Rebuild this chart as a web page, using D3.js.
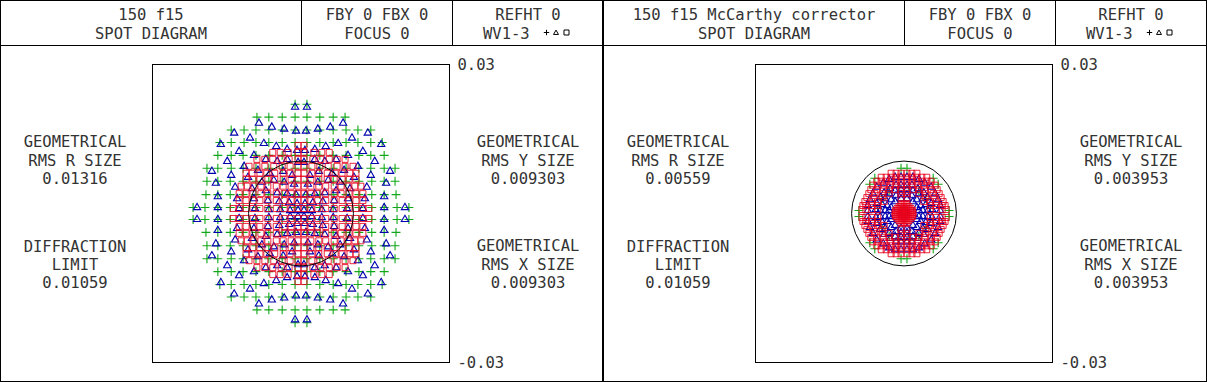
<!DOCTYPE html>
<html>
<head>
<meta charset="utf-8">
<script src="https://cdn.jsdelivr.net/npm/d3@7"></script>
<style>
  html, body { margin: 0; background: #fff; }
  svg { display: block; }
  text { font-family: "DejaVu Sans Mono", monospace; font-size: 15.5px; fill: #333; }
</style>
</head>
<body>
<script>
// spot positions are in micrometres on the image plane, axis labels are in mm
const axisTicks = [30, -30];
const diffractionLimit = 10.59;

const leftTitle = "150 f15";
const rightTitle = "150 f15 McCarthy corrector";
const leftRmsR = "0.01316", leftRmsY = "0.009303", leftRmsX = "0.009303";
const rightRmsR = "0.00559", rightRmsY = "0.003953", rightRmsX = "0.003953";
const limitText = "0.01059";

// left panel, wavelength 1, one list per image row
const leftCrossY = [-22, -19.4, -16.8, -14.3, -11.7, -9.1, -6.5, -3.8, -1.2, 1.2, 3.8, 6.5, 9.1, 11.7, 14.3, 16.8, 19.4, 22];
const leftCrossX = [
  [-1.2, 1.2],
  [-8.9, -6.5, -3.8, -1.2, 1.2, 3.8, 6.5, 8.9],
  [-14.1, -11.5, -9.1, -6.5, -3.8, -1.2, 1.2, 3.8, 6.5, 9.1, 11.5, 14.1],
  [-16.4, -14.1, -11.5, -9.1, -6.5, -3.8, -1.2, 1.2, 3.8, 6.5, 9.1, 11.5, 14.1, 16.4],
  [-16.8, -14.1, -11.7, -9.1, -6.5, -3.8, -1.2, 1.2, 3.8, 6.5, 9.1, 11.7, 14.1, 16.8],
  [-19, -16.8, -14.1, -11.7, -9.1, -6.5, -3.8, -1.2, 1.2, 3.8, 6.5, 9.1, 11.7, 14.1, 16.8, 19],
  [-19, -16.8, -14.3, -11.7, -9.1, -6.5, -3.8, -1.2, 1.2, 3.8, 6.5, 9.1, 11.7, 14.3, 16.8, 19],
  [-19.2, -16.8, -14.3, -11.7, -9.1, -6.5, -3.8, -1.2, 1.2, 3.8, 6.5, 9.1, 11.7, 14.3, 16.8, 19.2],
  [-21.8, -19.4, -16.8, -14.3, -11.7, -9.1, -6.5, -3.8, -1.2, 1.2, 3.8, 6.5, 9.1, 11.7, 14.3, 16.8, 19.4, 21.8],
  [-21.8, -19.4, -16.8, -14.3, -11.7, -9.1, -6.5, -3.8, -1.2, 1.2, 3.8, 6.5, 9.1, 11.7, 14.3, 16.8, 19.4, 21.8],
  [-19.2, -16.8, -14.3, -11.7, -9.1, -6.5, -3.8, -1.2, 1.2, 3.8, 6.5, 9.1, 11.7, 14.3, 16.8, 19.2],
  [-19, -16.8, -14.3, -11.7, -9.1, -6.5, -3.8, -1.2, 1.2, 3.8, 6.5, 9.1, 11.7, 14.3, 16.8, 19],
  [-19, -16.8, -14.1, -11.7, -9.1, -6.5, -3.8, -1.2, 1.2, 3.8, 6.5, 9.1, 11.7, 14.1, 16.8, 19],
  [-16.8, -14.1, -11.7, -9.1, -6.5, -3.8, -1.2, 1.2, 3.8, 6.5, 9.1, 11.7, 14.1, 16.8],
  [-16.4, -14.1, -11.5, -9.1, -6.5, -3.8, -1.2, 1.2, 3.8, 6.5, 9.1, 11.5, 14.1, 16.4],
  [-14.1, -11.5, -9.1, -6.5, -3.8, -1.2, 1.2, 3.8, 6.5, 9.1, 11.5, 14.1],
  [-8.9, -6.5, -3.8, -1.2, 1.2, 3.8, 6.5, 8.9],
  [-1.2, 1.2]
];

// left panel, wavelength 2
const leftTriangles = [
  [-1.2,-21.4],[-1,-16.6],[-3.4,-17],[-5.9,-17.4],[-8.5,-18.2],[-13.5,-16.2],[-10.3,-15.2],[-7.5,-14.1],[-5,-13.5],[-2.8,-12.9],[-.8,-12.7],
  [-16.2,-13.9],[-12.5,-12.5],[-9.5,-11.7],[-7.1,-10.9],[-4.8,-10.5],[-2.8,-10.9],[-.6,-10.3],[-14.9,-10.5],[-11.5,-9.5],[-8.7,-8.7],[-6.3,-8.1],[-3.6,-8.5],[-1.8,-7.7],
  [-18,-8.5],[-14.1,-7.7],[-10.7,-7.3],[-7.9,-6.3],[-5.5,-6.7],[-3.4,-6.3],[-1.4,-5.9],[-17.2,-6.1],[-13.3,-5.3],[-9.9,-5],[-7.1,-4.6],[-4.8,-4.2],[-2.8,-4],[-1,-3.8],
  [-16.8,-3.4],[-12.9,-3],[-9.5,-3],[-6.7,-2.6],[-4.4,-2.4],[-2.4,-2.2],[-.8,-2],[-21,-1.2],[-16.8,-1.2],[-12.5,-1],[-9.3,-1],[-6.5,-.8],[-4.2,-.8],[-2.2,-.6],[-.6,-.6],

  [1.2,-21.4],[1,-16.6],[3.4,-17],[5.9,-17.4],[8.5,-18.2],[13.5,-16.2],[10.3,-15.2],[7.5,-14.1],[5,-13.5],[2.8,-12.9],[.8,-12.7],
  [16.2,-13.9],[12.5,-12.5],[9.5,-11.7],[7.1,-10.9],[4.8,-10.5],[2.8,-10.9],[.6,-10.3],[14.9,-10.5],[11.5,-9.5],[8.7,-8.7],[6.3,-8.1],[3.6,-8.5],[1.8,-7.7],
  [18,-8.5],[14.1,-7.7],[10.7,-7.3],[7.9,-6.3],[5.5,-6.7],[3.4,-6.3],[1.4,-5.9],[17.2,-6.1],[13.3,-5.3],[9.9,-5],[7.1,-4.6],[4.8,-4.2],[2.8,-4],[1,-3.8],
  [16.8,-3.4],[12.9,-3],[9.5,-3],[6.7,-2.6],[4.4,-2.4],[2.4,-2.2],[.8,-2],[21,-1.2],[16.8,-1.2],[12.5,-1],[9.3,-1],[6.5,-.8],[4.2,-.8],[2.2,-.6],[.6,-.6],

  [-1.2,21.4],[-1,16.6],[-3.4,17],[-5.9,17.4],[-8.5,18.2],[-13.5,16.2],[-10.3,15.2],[-7.5,14.1],[-5,13.5],[-2.8,12.9],[-.8,12.7],
  [-16.2,13.9],[-12.5,12.5],[-9.5,11.7],[-7.1,10.9],[-4.8,10.5],[-2.8,10.9],[-.6,10.3],[-14.9,10.5],[-11.5,9.5],[-8.7,8.7],[-6.3,8.1],[-3.6,8.5],[-1.8,7.7],
  [-18,8.5],[-14.1,7.7],[-10.7,7.3],[-7.9,6.3],[-5.5,6.7],[-3.4,6.3],[-1.4,5.9],[-17.2,6.1],[-13.3,5.3],[-9.9,5],[-7.1,4.6],[-4.8,4.2],[-2.8,4],[-1,3.8],
  [-16.8,3.4],[-12.9,3],[-9.5,3],[-6.7,2.6],[-4.4,2.4],[-2.4,2.2],[-.8,2],[-21,1.2],[-16.8,1.2],[-12.5,1],[-9.3,1],[-6.5,.8],[-4.2,.8],[-2.2,.6],[-.6,.6],

  [1.2,21.4],[1,16.6],[3.4,17],[5.9,17.4],[8.5,18.2],[13.5,16.2],[10.3,15.2],[7.5,14.1],[5,13.5],[2.8,12.9],[.8,12.7],
  [16.2,13.9],[12.5,12.5],[9.5,11.7],[7.1,10.9],[4.8,10.5],[2.8,10.9],[.6,10.3],[14.9,10.5],[11.5,9.5],[8.7,8.7],[6.3,8.1],[3.6,8.5],[1.8,7.7],
  [18,8.5],[14.1,7.7],[10.7,7.3],[7.9,6.3],[5.5,6.7],[3.4,6.3],[1.4,5.9],[17.2,6.1],[13.3,5.3],[9.9,5],[7.1,4.6],[4.8,4.2],[2.8,4],[1,3.8],
  [16.8,3.4],[12.9,3],[9.5,3],[6.7,2.6],[4.4,2.4],[2.4,2.2],[.8,2],[21,1.2],[16.8,1.2],[12.5,1],[9.3,1],[6.5,.8],[4.2,.8],[2.2,.6],[.6,.6]
];

// left panel, wavelength 3
const leftSquareY = [-13.7, -12.3, -10.9, -9.5, -8.1, -6.9, -5.5, -4, -2.6, -1, 1, 2.6, 4, 5.5, 6.9, 8.1, 9.5, 10.9, 12.3, 13.7];
const leftSquareX = [
  [-.6, .6],
  [-5.7, -4.2, -2.6, -.6, .6, 2.6, 4.2, 5.7],
  [-8.9, -7.3, -5.7, -4, -2.4, -.6, .6, 2.4, 4, 5.7, 7.3, 8.9],
  [-10.5, -8.9, -7.3, -5.5, -3.8, -2.2, -.6, .6, 2.2, 3.8, 5.5, 7.3, 8.9, 10.5],
  [-11.1, -9.9, -8.3, -6.9, -5.3, -3.6, -2.2, -.6, .6, 2.2, 3.6, 5.3, 6.9, 8.3, 9.9, 11.1],
  [-11.1, -9.7, -8.3, -6.7, -5.3, -3.6, -2, -.6, .6, 2, 3.6, 5.3, 6.7, 8.3, 9.7, 11.1],
  [-12.1, -10.9, -9.5, -8.1, -6.7, -5, -3.6, -2, -.6, .6, 2, 3.6, 5, 6.7, 8.1, 9.5, 10.9, 12.1],
  [-12.5, -11.1, -9.7, -8.1, -6.7, -5, -3.4, -2, -.6, .6, 2, 3.4, 5, 6.7, 8.1, 9.7, 11.1, 12.5],
  [-12.5, -11.1, -9.7, -8.3, -6.7, -5, -3.4, -2, -.6, .6, 2, 3.4, 5, 6.7, 8.3, 9.7, 11.1, 12.5],
  [-13.7, -12.5, -11.1, -9.7, -8.3, -6.7, -5, -3.4, -2, -.6, .6, 2, 3.4, 5, 6.7, 8.3, 9.7, 11.1, 12.5, 13.7],
  [-13.7, -12.5, -11.1, -9.7, -8.3, -6.7, -5, -3.4, -2, -.6, .6, 2, 3.4, 5, 6.7, 8.3, 9.7, 11.1, 12.5, 13.7],
  [-12.5, -11.1, -9.7, -8.3, -6.7, -5, -3.4, -2, -.6, .6, 2, 3.4, 5, 6.7, 8.3, 9.7, 11.1, 12.5],
  [-12.5, -11.1, -9.7, -8.1, -6.7, -5, -3.4, -2, -.6, .6, 2, 3.4, 5, 6.7, 8.1, 9.7, 11.1, 12.5],
  [-12.1, -10.9, -9.5, -8.1, -6.7, -5, -3.6, -2, -.6, .6, 2, 3.6, 5, 6.7, 8.1, 9.5, 10.9, 12.1],
  [-11.1, -9.7, -8.3, -6.7, -5.3, -3.6, -2, -.6, .6, 2, 3.6, 5.3, 6.7, 8.3, 9.7, 11.1],
  [-11.1, -9.9, -8.3, -6.9, -5.3, -3.6, -2.2, -.6, .6, 2.2, 3.6, 5.3, 6.9, 8.3, 9.9, 11.1],
  [-10.5, -8.9, -7.3, -5.5, -3.8, -2.2, -.6, .6, 2.2, 3.8, 5.5, 7.3, 8.9, 10.5],
  [-8.9, -7.3, -5.7, -4, -2.4, -.6, .6, 2.4, 4, 5.7, 7.3, 8.9],
  [-5.7, -4.2, -2.6, -.6, .6, 2.6, 4.2, 5.7],
  [-.6, .6]
];

// right panel
const rightCrosses = [
  [-.6,-9.1],[.6,-9.1],[-.6,9.1],[.6,9.1],[-5.9,-7.1],[5.9,-7.1],[-5.9,7.1],[5.9,7.1],
  [-6.9,-5.9],[6.9,-5.9],[-6.9,5.9],[6.9,5.9],[-9.1,-.6],[9.1,-.6],[-9.1,.6],[9.1,.6],
  [-1,-5.3],[1,-5.3],[-1,5.3],[1,5.3],[-3,-4.6],[3,-4.6],[-3,4.6],[3,4.6],
  [-4.4,-3],[4.4,-3],[-4.4,3],[4.4,3],[-5.3,-1],[5.3,-1],[-5.3,1],[5.3,1]
];
const rightTriangles = [
  [-.6,-7.3],[-1.8,-7.3],[-3,-6.9],[-4.2,-6.1],[-5.5,-5.3],[-6.3,-4],[-6.9,-2.8],[-7.3,-1.6],[-7.3,-.6],
  [-.6,-5.7],[-1.6,-5.7],[-2.8,-5],[-4,-4.2],[-4.8,-3.2],[-5.5,-2],[-5.7,-.8],[-.6,-4.8],[-1.8,-4.6],[-3,-4],[-3.8,-3],[-4.4,-1.8],[-4.8,-.6],
  [-.6,-3.8],[-1.6,-3.6],[-2.6,-2.8],[-3.4,-1.6],[-3.8,-.6],[-.6,-3],[-1.8,-2.4],[-2.6,-1.2],[-3,-.6],
  [.6,-7.3],[1.8,-7.3],[3,-6.9],[4.2,-6.1],[5.5,-5.3],[6.3,-4],[6.9,-2.8],[7.3,-1.6],[7.3,-.6],
  [.6,-5.7],[1.6,-5.7],[2.8,-5],[4,-4.2],[4.8,-3.2],[5.5,-2],[5.7,-.8],[.6,-4.8],[1.8,-4.6],[3,-4],[3.8,-3],[4.4,-1.8],[4.8,-.6],
  [.6,-3.8],[1.6,-3.6],[2.6,-2.8],[3.4,-1.6],[3.8,-.6],[.6,-3],[1.8,-2.4],[2.6,-1.2],[3,-.6],
  [-.6,7.3],[-1.8,7.3],[-3,6.9],[-4.2,6.1],[-5.5,5.3],[-6.3,4],[-6.9,2.8],[-7.3,1.6],[-7.3,.6],
  [-.6,5.7],[-1.6,5.7],[-2.8,5],[-4,4.2],[-4.8,3.2],[-5.5,2],[-5.7,.8],[-.6,4.8],[-1.8,4.6],[-3,4],[-3.8,3],[-4.4,1.8],[-4.8,.6],
  [-.6,3.8],[-1.6,3.6],[-2.6,2.8],[-3.4,1.6],[-3.8,.6],[-.6,3],[-1.8,2.4],[-2.6,1.2],[-3,.6],
  [.6,7.3],[1.8,7.3],[3,6.9],[4.2,6.1],[5.5,5.3],[6.3,4],[6.9,2.8],[7.3,1.6],[7.3,.6],
  [.6,5.7],[1.6,5.7],[2.8,5],[4,4.2],[4.8,3.2],[5.5,2],[5.7,.8],[.6,4.8],[1.8,4.6],[3,4],[3.8,3],[4.4,1.8],[4.8,.6],
  [.6,3.8],[1.6,3.6],[2.6,2.8],[3.4,1.6],[3.8,.6],[.6,3],[1.8,2.4],[2.6,1.2],[3,.6]
];
const rightSquareY = [-8.1, -7.3, -6.5, -5.7, -4.8, -4, -3.2, -2.4, -1.8, -1.6, -1.4, -1, -.8, -.6, -.2, .2, .6, .8, 1, 1.4, 1.6, 1.8, 2.4, 3.2, 4, 4.8, 5.7, 6.5, 7.3, 8.1];
const rightSquareX = [
  [-2.6, -1.6, -.6, .6, 1.6, 2.6],
  [-4.6, -3.6, -2.6, -1.6, -.6, .6, 1.6, 2.6, 3.6, 4.6],
  [-5.5, -4.6, -3.6, -2.6, -1.6, -.6, .6, 1.6, 2.6, 3.6, 4.6, 5.5],
  [-6.3, -5.3, -4, -2.8, -1.6, -.6, .6, 1.6, 2.8, 4, 5.3, 6.3],
  [-6.7, -5.5, -4.2, -3, -1.8, -.6, .6, 1.8, 3, 4.2, 5.5, 6.7],
  [-7.1, -5.9, -4.4, -3, -.6, .6, 3, 4.4, 5.9, 7.1],
  [-7.5, -6.1, -4.4, -.6, .6, 4.4, 6.1, 7.5],
  [-7.9, -6.5, -5.3, -4, 4, 5.3, 6.5, 7.9],
  [-.6, -.2, .2, .6],
  [-8.3, -7.7, -6.5, -5.3, 5.3, 6.5, 7.7, 8.3],
  [-1, -.6, -.2, .2, .6, 1],
  [-1.4, -1, -.6, -.2, .2, .6, 1, 1.4],
  [-8.5, -7.7, -6.5, -5.3, 5.3, 6.5, 7.7, 8.5],
  [-1.7, -1.4, -1, -.6, -.2, .2, .6, 1, 1.4, 1.7],
  [-1.8, -1.4, -1, -.6, -.2, .2, .6, 1, 1.4, 1.8],
  [-1.8, -1.4, -1, -.6, -.2, .2, .6, 1, 1.4, 1.8],
  [-1.7, -1.4, -1, -.6, -.2, .2, .6, 1, 1.4, 1.7],
  [-8.5, -7.7, -6.5, -5.3, 5.3, 6.5, 7.7, 8.5],
  [-1.4, -1, -.6, -.2, .2, .6, 1, 1.4],
  [-1, -.6, -.2, .2, .6, 1],
  [-8.3, -7.7, -6.5, -5.3, 5.3, 6.5, 7.7, 8.3],
  [-.6, -.2, .2, .6],
  [-7.9, -6.5, -5.3, -4, 4, 5.3, 6.5, 7.9],
  [-7.5, -6.1, -4.4, -.6, .6, 4.4, 6.1, 7.5],
  [-7.1, -5.9, -4.4, -3, -.6, .6, 3, 4.4, 5.9, 7.1],
  [-6.7, -5.5, -4.2, -3, -1.8, -.6, .6, 1.8, 3, 4.2, 5.5, 6.7],
  [-6.3, -5.3, -4, -2.8, -1.6, -.6, .6, 1.6, 2.8, 4, 5.3, 6.3],
  [-5.5, -4.6, -3.6, -2.6, -1.6, -.6, .6, 1.6, 2.6, 3.6, 4.6, 5.5],
  [-4.6, -3.6, -2.6, -1.6, -.6, .6, 1.6, 2.6, 3.6, 4.6],
  [-2.6, -1.6, -.6, .6, 1.6, 2.6]
];

const width = 1207, height = 382;
const green = "#10a818", blue = "#0000b0", red = "#e8001c";

const rows = (ys, xs) => ys.flatMap((y, i) => xs[i].map(x => [x, y]));

const plus = d3.symbol().type(d3.symbolPlus);
const tri = d3.symbol().type(d3.symbolTriangle2);
const sq = d3.symbol().type(d3.symbolSquare2);

const svg = d3.select("body").append("svg")
    .attr("width", width)
    .attr("height", height);

function line(x1, y1, x2, y2, w) {
  svg.append("line")
      .attr("x1", x1).attr("y1", y1).attr("x2", x2).attr("y2", y2)
      .attr("stroke", "#000").attr("stroke-width", w || 1);
}

function label(x, y, s, anchor) {
  svg.append("text")
      .attr("x", x).attr("y", y)
      .attr("text-anchor", anchor || "middle")
      .text(s);
}

function panel(p) {
  const x0 = p.left;
  const x = d3.scaleLinear().domain([-30, 30]).range([x0 + 152.5, x0 + 449.5]);
  const y = d3.scaleLinear().domain([-30, 30]).range([64.5, 362.5]);

  // header cells
  line(x0 + p.div1, 0, x0 + p.div1, 45);
  line(x0 + p.div2, 0, x0 + p.div2, 45);
  label(x0 + 151, 20, p.title);
  label(x0 + 151, 39, "SPOT DIAGRAM");
  label(x0 + 377, 20, "FBY 0 FBX 0");
  label(x0 + 377, 39, "FOCUS 0");
  label(x0 + 528, 20, "REFHT 0");
  label(x0 + 483, 39, "WV1-3", "start");

  // small wavelength key
  const key = svg.append("g").attr("fill", "none").attr("stroke", "#000").attr("stroke-width", 1);
  key.append("path").attr("transform", `translate(${x0 + 546.5},32.5)`).attr("d", plus.size(11)());
  key.append("path").attr("transform", `translate(${x0 + 556},33)`).attr("d", tri.size(18)());
  key.append("path").attr("transform", `translate(${x0 + 566.5},32.5)`).attr("d", sq.size(32)());

  // side texts
  label(x0 + 75, 147, "GEOMETRICAL");
  label(x0 + 75, 166, "RMS R SIZE");
  label(x0 + 75, 184, p.rmsR);
  label(x0 + 75, 252, "DIFFRACTION");
  label(x0 + 75, 270, "LIMIT");
  label(x0 + 75, 288, limitText);
  label(x0 + 528, 147, "GEOMETRICAL");
  label(x0 + 528, 166, "RMS Y SIZE");
  label(x0 + 528, 184, p.rmsY);
  label(x0 + 528, 251, "GEOMETRICAL");
  label(x0 + 528, 270, "RMS X SIZE");
  label(x0 + 528, 288, p.rmsX);

  // plot box
  svg.append("rect")
      .attr("x", x(-30)).attr("y", y(-30))
      .attr("width", x(30) - x(-30)).attr("height", y(30) - y(-30))
      .attr("fill", "none").attr("stroke", "#000");

  svg.append("g")
      .attr("transform", `translate(${x(30)},0)`)
      .call(d3.axisRight(y).tickValues(axisTicks).tickSize(0).tickPadding(8).tickFormat(d => (-d / 1000).toFixed(2)))
      .call(g => g.select(".domain").remove())
      .call(g => g.selectAll("text").style("font-family", null).style("font-size", null).attr("font-family", null).attr("font-size", null));

  const spots = svg.append("g").attr("fill", "none");
  const draw = (data, sym, color, w, op) => spots.append("g")
      .attr("stroke", color)
      .attr("stroke-width", w)
      .attr("stroke-opacity", op)
    .selectAll("path")
    .data(data)
    .join("path")
      .attr("transform", d => `translate(${x(d[0])},${y(d[1])})`)
      .attr("d", sym());

  draw(p.crosses, plus.size(28), green, 1.1, 1);
  draw(p.triangles, tri.size(38), blue, 1.1, 1);
  draw(p.squares, sq.size(46), red, 1, 0.85);

  // airy disc
  svg.append("circle")
      .attr("cx", x(0)).attr("cy", y(0))
      .attr("r", x(diffractionLimit) - x(0))
      .attr("fill", "none").attr("stroke", "#000");
}

// frame
line(0, 0.5, width, 0.5);
line(0, 45.5, width, 45.5);
line(0, 381.5, width, 381.5);
line(0.5, 0, 0.5, height);
line(1206.5, 0, 1206.5, height);
line(603, 0, 603, height, 2);

panel({
  left: 0, div1: 301.5, div2: 452.5, title: leftTitle,
  rmsR: leftRmsR, rmsY: leftRmsY, rmsX: leftRmsX,
  crosses: rows(leftCrossY, leftCrossX),
  triangles: leftTriangles,
  squares: rows(leftSquareY, leftSquareX)
});

panel({
  left: 603, div1: 301.5, div2: 452.5, title: rightTitle,
  rmsR: rightRmsR, rmsY: rightRmsY, rmsX: rightRmsX,
  crosses: rightCrosses,
  triangles: rightTriangles,
  squares: rows(rightSquareY, rightSquareX)
});
</script>
</body>
</html>
